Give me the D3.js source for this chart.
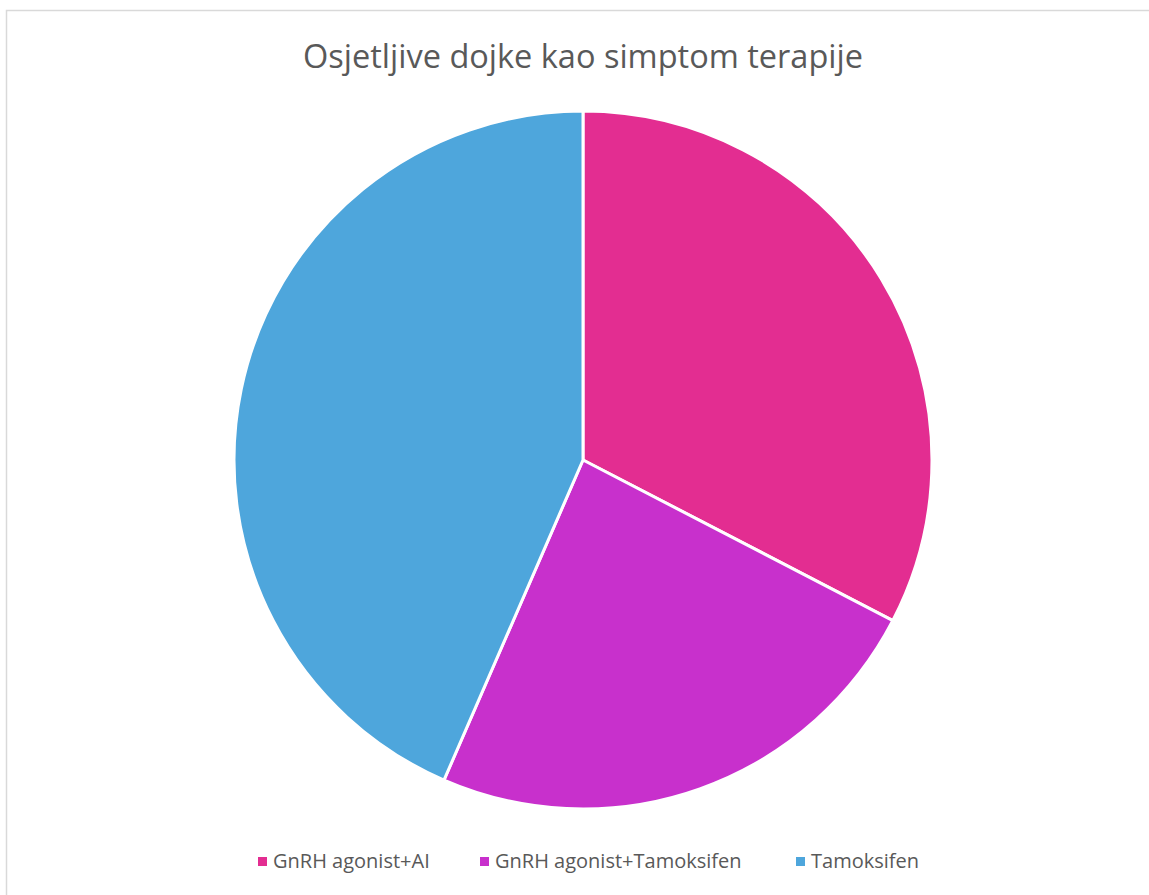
<!DOCTYPE html>
<html>
<head>
<meta charset="utf-8">
<script src="https://cdn.jsdelivr.net/npm/d3@7"></script>
<style>
  body { margin: 0; background: #fff; }
  text { font-family: "Open Sans", "Liberation Sans", sans-serif; fill: #595959; }
</style>
</head>
<body>
<script>
let title = "Osjetljive dojke kao simptom terapije";
let categories = ["GnRH agonist+AI", "GnRH agonist+Tamoksifen", "Tamoksifen"];
let values = [15, 11, 20];
let colors = ["#E32D91", "#C830CC", "#4EA6DC"];

let width = 1149, height = 895;
let cx = 583, cy = 460, radius = 349;

let svg = d3.select("body").append("svg")
    .attr("width", width)
    .attr("height", height)

// chart border
svg.append("rect")
    .attr("x", 6.5)
    .attr("y", 10.5)
    .attr("width", width)
    .attr("height", height)
    .attr("fill", "none")
    .attr("stroke", "#d9d9d9")
    .attr("stroke-width", 1.5)

svg.append("text")
    .attr("x", cx)
    .attr("y", 68)
    .attr("text-anchor", "middle")
    .attr("font-size", 32.5)
    .text(title)

let data = categories.map((c, i) => ({name: c, value: values[i], color: colors[i]}));

let pie = d3.pie()
    .sort(null)
    .value(d => d.value)

let arc = d3.arc()
    .innerRadius(0)
    .outerRadius(radius)

svg.append("g")
    .attr("transform", `translate(${cx},${cy})`)
    .selectAll("path")
    .data(pie(data))
    .enter()
    .append("path")
    .attr("d", arc)
    .attr("fill", d => d.data.color)
    .attr("stroke", "#fff")
    .attr("stroke-width", 3)
    .attr("stroke-linejoin", "round")

// legend
let legendX = [258, 480, 796];
let legend = svg.append("g")
    .selectAll("g")
    .data(data)
    .enter()
    .append("g")
    .attr("transform", (d, i) => `translate(${legendX[i]},857)`)

legend.append("rect")
    .attr("width", 9)
    .attr("height", 9)
    .attr("fill", d => d.color)

legend.append("text")
    .attr("x", 15)
    .attr("y", 11)
    .attr("font-size", 20)
    .text(d => d.name)
</script>
</body>
</html>
